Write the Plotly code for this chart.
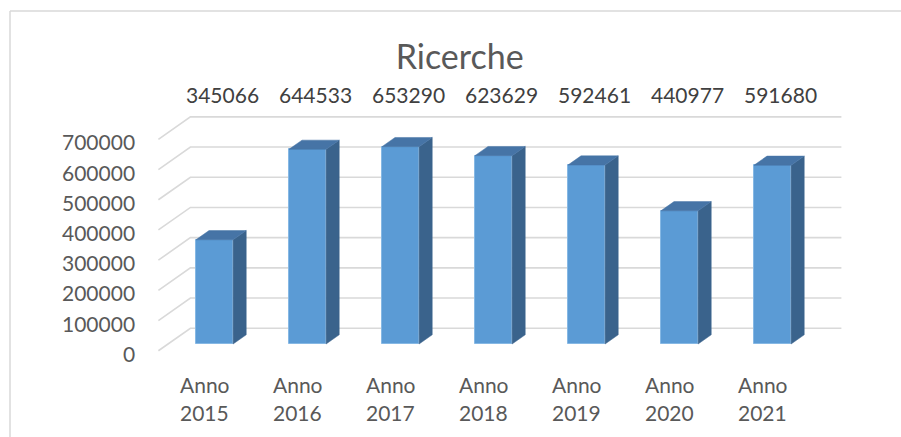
import plotly.graph_objects as go

# ---------------- data ----------------
title_text = "Ricerche"
categories = ["Anno 2015", "Anno 2016", "Anno 2017", "Anno 2018", "Anno 2019", "Anno 2020", "Anno 2021"]
ricerche = [345066, 644533, 653290, 623629, 592461, 440977, 591680]
y_ticks = [0, 100000, 200000, 300000, 400000, 500000, 600000, 700000]

# ---------------- layout / projection constants ----------------
W, H = 901, 437
XU = 93.0              # px per category
YU = 30.2 / 100000     # px per value unit
X_ORIGIN = 214.5       # px of category 0 (bar front plane)
Y_ORIGIN = 344.0       # px of value 0 (bar front plane)
DEPTH_DX = 32.0        # px shift per unit depth
DEPTH_DY = 22.5
FRONT_D, BACK_D = -0.3, 0.7
BAR_W, BAR_D = 0.4, 0.41

FRONT = "#5B9BD5"
TOP = "#4674A6"
SIDE = "#3A638C"
GRID = "#D9D9D9"
TXT = "#595959"
VAL = "#404040"
FONT = "Lato, Carlito, 'Open Sans', sans-serif"

def proj(x, v, d):
    return x + d * DEPTH_DX / XU, v + d * DEPTH_DY / YU

n = len(categories)
fig = go.Figure()

# gridlines (left wall + back wall) as shapes below the traces
shapes = []
for t in y_ticks:
    pts = [proj(x, t, d) for (x, d) in [(-0.5, FRONT_D), (-0.5, BACK_D), (n - 0.5, BACK_D)]]
    path = "M {} {} L {} {} L {} {}".format(pts[0][0], pts[0][1], pts[1][0], pts[1][1], pts[2][0], pts[2][1])
    shapes.append(dict(type="path", xref="x", yref="y", path=path, layer="below",
                       line=dict(color=GRID, width=1.6)))

# front faces
fig.add_trace(go.Bar(x=list(range(n)), y=ricerche, width=BAR_W,
                     marker=dict(color=FRONT, line=dict(color="#86B8E4", width=1)),
                     hoverinfo="skip", showlegend=False))

# side and top faces
for i, v in enumerate(ricerche):
    xl, xr = i - BAR_W / 2, i + BAR_W / 2
    pts = [proj(xr, 0, 0), proj(xr, v, 0), proj(xr, v, BAR_D), proj(xr, 0, BAR_D)]
    fig.add_trace(go.Scatter(x=[p[0] for p in pts] + [pts[0][0]], y=[p[1] for p in pts] + [pts[0][1]],
                             mode="lines", fill="toself", fillcolor=SIDE, line=dict(color=SIDE, width=0.5),
                             hoverinfo="skip", showlegend=False))
    pts = [proj(xl, v, 0), proj(xr, v, 0), proj(xr, v, BAR_D), proj(xl, v, BAR_D)]
    fig.add_trace(go.Scatter(x=[p[0] for p in pts] + [pts[0][0]], y=[p[1] for p in pts] + [pts[0][1]],
                             mode="lines", fill="toself", fillcolor=TOP, line=dict(color=TOP, width=0.5),
                             hoverinfo="skip", showlegend=False))

ann = []
label_v = (Y_ORIGIN - 94) / YU
for i, v in enumerate(ricerche):
    ann.append(dict(x=i + 7.5 / XU, y=label_v, text=str(v), showarrow=False,
                    xanchor="center", yanchor="middle", font=dict(family=FONT, size=21, color=VAL)))
for t in y_ticks:
    x0, y0 = proj(-0.5, t, FRONT_D)
    ann.append(dict(x=x0 - 21 / XU, y=y0 - 2.5 / YU, text=str(t), showarrow=False,
                    xanchor="right", yanchor="middle", font=dict(family=FONT, size=21, color=TXT)))
for i, c in enumerate(categories):
    x0, y0 = proj(i, 0, FRONT_D)
    for j, p in enumerate(c.split(" ")):
        ann.append(dict(x=x0, y=y0 - (34 + 28 * j) / YU, text=p, showarrow=False,
                        xanchor="center", yanchor="middle", font=dict(family=FONT, size=21, color=TXT)))

fx = 10 / W
fy = 1 - 11 / H
shapes += [
    dict(type="line", xref="paper", yref="paper", x0=fx, x1=fx, y0=0, y1=fy, line=dict(color=GRID, width=1.5)),
    dict(type="line", xref="paper", yref="paper", x0=fx, x1=1, y0=fy, y1=fy, line=dict(color=GRID, width=1.5)),
]

fig.update_layout(
    width=W, height=H,
    margin=dict(l=0, r=0, t=0, b=0),
    paper_bgcolor="white", plot_bgcolor="white",
    xaxis=dict(range=[-X_ORIGIN / XU, (W - X_ORIGIN) / XU], visible=False, fixedrange=True),
    yaxis=dict(range=[-(H - Y_ORIGIN) / YU, Y_ORIGIN / YU], visible=False, fixedrange=True),
    title=dict(text=title_text, x=459.7 / W, y=1 - 57 / H, xanchor="center", yanchor="middle",
               font=dict(family=FONT, size=34, color=TXT)),
    annotations=ann,
    shapes=shapes,
    bargap=0,
)

fig.write_html("out.html", config={"displayModeBar": False},
               post_script="document.body.style.margin='0';document.body.style.overflow='hidden';")
